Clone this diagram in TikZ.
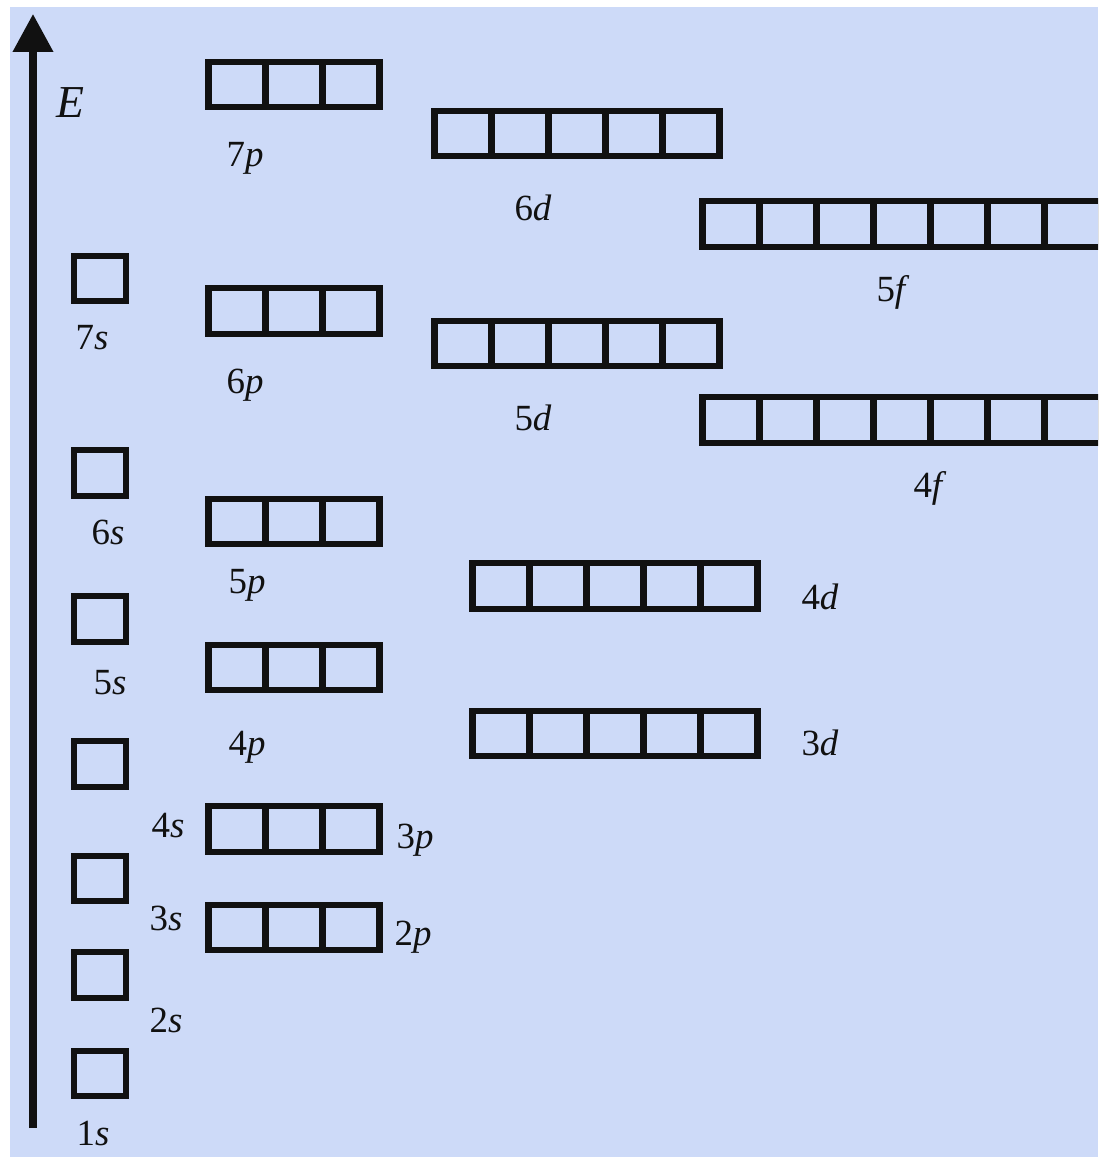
\documentclass[tikz,border=0pt]{standalone}
\usepackage{fontspec}
\setmainfont{Liberation Serif}
\usepackage{xcolor}
\usepackage{tikz}
\usetikzlibrary{arrows.meta}
\definecolor{paper}{HTML}{CDDAF8}
\definecolor{ink}{HTML}{111111}
\tikzset{
  cell/.style={draw=ink, line width=1.8pt, minimum width=5.7mm, minimum height=4.55mm,
               inner sep=0pt, outer sep=0pt},
  scell/.style={cell, minimum width=5.2mm},
  olbl/.style={font=\fontsize{10.5}{12}\selectfont, text=ink, inner sep=0pt},
  axis/.style={draw=ink, line width=0.72mm, -{Triangle[length=3.8mm, width=3.9mm]}}
}

\begin{document}
\begin{tikzpicture}[x=0.1mm, y=-0.1mm]
  \useasboundingbox (0,0) rectangle (1098,1157);
  \fill[white] (0,0) rectangle (1098,1157);
  \fill[paper] (10,7) rectangle (1098,1157);
  \clip (0,0) rectangle (1098,1157);

  % energy axis
  \coordinate (ebot) at (33,1128);
  \coordinate (etop) at (33,14);
  \draw[axis] (ebot) -- (etop);
  \node[olbl, font=\fontsize{13}{15}\selectfont\itshape] (elbl) at (70,103) {E};

  % s orbitals
  \foreach \nm/\y in {7s/278.5, 6s/473, 5s/619, 4s/764, 3s/878.5, 2s/975, 1s/1073.5}
    \node[scell] (\nm) at (100,\y) {};

  % p, d, f orbitals
  \foreach \nm/\x/\y/\n in {7p/237/84.5/3, 6p/237/311/3, 5p/237/521.5/3, 4p/237/667.5/3,
                            3p/237/829/3, 2p/237/927.5/3,
                            6d/463/133.5/5, 5d/463/343.5/5, 4d/501/586/5, 3d/501/733.5/5,
                            5f/731/224/7, 4f/731/420/7}
    \foreach \i in {1,...,\n}
      \node[cell] (\nm-\i) at ({\x+(\i-1)*57},\y) {};

  % labels
  \foreach \shell/\kind/\x/\y in {7/s/92/338, 6/s/108/532, 5/s/110/683, 4/s/168/826,
                                  3/s/166/918, 2/s/166/1020, 1/s/93/1133,
                                  7/p/245/158, 6/p/245/385, 5/p/247/585, 4/p/247/747,
                                  3/p/415/840, 2/p/413/937,
                                  6/d/533/208, 5/d/533/418, 4/d/820/597, 3/d/820/743,
                                  5/f/893/292, 4/f/930/488}
    \node[olbl] (lbl-\shell\kind) at (\x,\y) {\shell\textit{\kind}};
\end{tikzpicture}
\end{document}
